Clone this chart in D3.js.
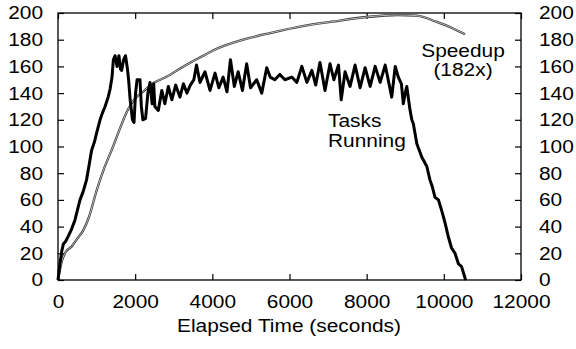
<!DOCTYPE html>
<html>
<head>
<meta charset="utf-8">
<script src="https://cdn.jsdelivr.net/npm/d3@7"></script>
<style>
    body { margin: 0; background: #fff; }
    text { font-family: "Liberation Sans", Arial, sans-serif; fill: #000; }
</style>
</head>
<body>
<div id="chart"></div>
<script>
// tasks running over time
var taskTime = [0, 50, 100, 140, 200, 270, 350, 440, 500, 570, 650, 740, 800, 870, 950, 1000,
    1090, 1150, 1220, 1300, 1350, 1400, 1435, 1480, 1530, 1580, 1620, 1650, 1700, 1750, 1800,
    1830, 1870, 1930, 1970, 2010, 2050, 2125, 2160, 2200, 2270, 2330, 2385, 2440, 2480, 2510,
    2600, 2690, 2770, 2860, 2950, 3050, 3160, 3250, 3340, 3430, 3520, 3590, 3680, 3810, 3940,
    4070, 4170, 4280, 4380, 4470, 4570, 4670, 4780, 4890, 4990, 5150, 5280, 5410, 5500, 5620,
    5750, 5880, 6060, 6190, 6320, 6450, 6580, 6680, 6790, 6920, 7050, 7150, 7270, 7340, 7440,
    7570, 7700, 7830, 7960, 8090, 8220, 8350, 8480, 8650, 8740, 8820, 8900, 8950, 9000, 9040,
    9120, 9170, 9210, 9300, 9430, 9560, 9640, 9700, 9770, 9860, 9945, 10030, 10120, 10200,
    10290, 10380, 10460, 10565];
var taskCount = [0, 12, 22, 27, 29, 33, 38, 45, 52, 60, 66, 75, 85, 97, 104, 110,
    120, 125, 130, 137, 143, 152, 165, 168, 160, 168, 158, 157, 165, 168, 158,
    150, 135, 120, 118, 140, 150, 150, 130, 120, 121, 140, 148, 132, 147, 130,
    127, 142, 132, 145, 135, 146, 137, 147, 140, 146, 150, 161, 148, 156, 142,
    155, 144, 152, 141, 165, 145, 156, 142, 162, 144, 150, 140, 159, 152, 150,
    154, 150, 152, 148, 160, 148, 157, 146, 163, 142, 162, 150, 161, 135, 156,
    145, 161, 144, 159, 145, 160, 148, 161, 137, 160, 152, 147, 132, 140, 145,
    128, 120, 117, 102, 92, 85, 75, 70, 62, 60, 52, 43, 32, 24,
    20, 12, 10, 0];

// speedup curve
var speedTime = [0, 100, 200, 350, 500, 650, 800, 1000, 1200, 1400, 1600, 1800, 2000, 2200,
    2500, 2800, 3200, 3700, 4100, 4800, 5500, 6300, 7100, 8000, 8800, 9300, 9800, 10200, 10550];
var speedValue = [0, 14, 21, 25, 31, 37, 47, 67, 84, 98, 113, 127, 136, 141,
    148, 152, 159, 167, 173, 180, 185, 190, 193.5, 197, 198.5, 198, 193.5, 189, 184];

var xTicks = [0, 2000, 4000, 6000, 8000, 10000, 12000],
    yTicks = [0, 20, 40, 60, 80, 100, 120, 140, 160, 180, 200];

var width = 576,
    height = 349,
    plot_left = 58,
    plot_right = 521,
    plot_top = 13,
    plot_bottom = 280,
    font_size = 18.5,
    stretch = 1.13;

var svg = d3.select("#chart").append("svg")
    .attr("width", width)
    .attr("height", height);

var x = d3.scaleLinear().domain([0, 12000]).range([plot_left, plot_right]);
var y = d3.scaleLinear().domain([0, 200]).range([plot_bottom, plot_top]);

function styleAxis(g) {
    g.select(".domain").remove();
    g.selectAll("line").attr("stroke", "#000").attr("stroke-width", 1.2);
    g.selectAll("text").attr("font-size", font_size).attr("font-family", null);
}

// bottom axis, ticks point inward
var gx = svg.append("g")
    .attr("transform", "translate(0," + plot_bottom + ")")
    .call(d3.axisBottom(x).tickValues(xTicks).tickFormat(d3.format("d")).tickSize(-6).tickPadding(15))
    .call(styleAxis);
gx.selectAll("text").attr("transform", "scale(" + stretch + ",1)");

// top axis, ticks only
svg.append("g")
    .attr("transform", "translate(0," + plot_top + ")")
    .call(d3.axisTop(x).tickValues(xTicks).tickSize(-6).tickFormat(""))
    .call(styleAxis);

// left axis
var gl = svg.append("g")
    .attr("transform", "translate(" + plot_left + ",0)")
    .call(d3.axisLeft(y).tickValues(yTicks).tickSize(-6).tickPadding(15))
    .call(styleAxis);
gl.selectAll("text")
    .attr("x", -15 / stretch)
    .attr("transform", "scale(" + stretch + ",1)");

// right axis
var gr = svg.append("g")
    .attr("transform", "translate(" + plot_right + ",0)")
    .call(d3.axisRight(y).tickValues(yTicks).tickSize(-6).tickPadding(18))
    .call(styleAxis);
gr.selectAll("text")
    .attr("x", 18 / stretch)
    .attr("transform", "scale(" + stretch + ",1)");

// frame
svg.append("rect")
    .attr("x", plot_left)
    .attr("y", plot_top)
    .attr("width", plot_right - plot_left)
    .attr("height", plot_bottom - plot_top)
    .attr("fill", "none")
    .attr("stroke", "#000")
    .attr("stroke-width", 1.3);

// speedup line: dark edges with a light core
var speedData = d3.zip(speedTime, speedValue);
var speedLine = d3.line()
    .x(function(d) { return x(d[0]); })
    .y(function(d) { return y(d[1]); })
    .curve(d3.curveMonotoneX);

svg.append("path")
    .attr("d", speedLine(speedData))
    .attr("fill", "none")
    .attr("stroke", "#333")
    .attr("stroke-width", 2.3);
svg.append("path")
    .attr("d", speedLine(speedData))
    .attr("fill", "none")
    .attr("stroke", "#ccc")
    .attr("stroke-width", 0.9);

// tasks running line
var taskData = d3.zip(taskTime, taskCount);
var taskLine = d3.line()
    .x(function(d) { return x(d[0]); })
    .y(function(d) { return y(d[1]); });

svg.append("path")
    .attr("d", taskLine(taskData))
    .attr("fill", "none")
    .attr("stroke", "#000")
    .attr("stroke-width", 3)
    .attr("stroke-linejoin", "round");

// labels
function label(tx, ty, str, anchor) {
    svg.append("g")
        .attr("transform", "translate(" + tx + "," + ty + ") scale(" + stretch + ",1)")
        .append("text")
        .attr("font-size", font_size)
        .attr("text-anchor", anchor)
        .text(str);
}

label(463, 57, "Speedup", "middle");
label(463, 76, "(182x)", "middle");
label(328, 127, "Tasks", "start");
label(328, 147, "Running", "start");
label(289, 332, "Elapsed Time (seconds)", "middle");
</script>
</body>
</html>
